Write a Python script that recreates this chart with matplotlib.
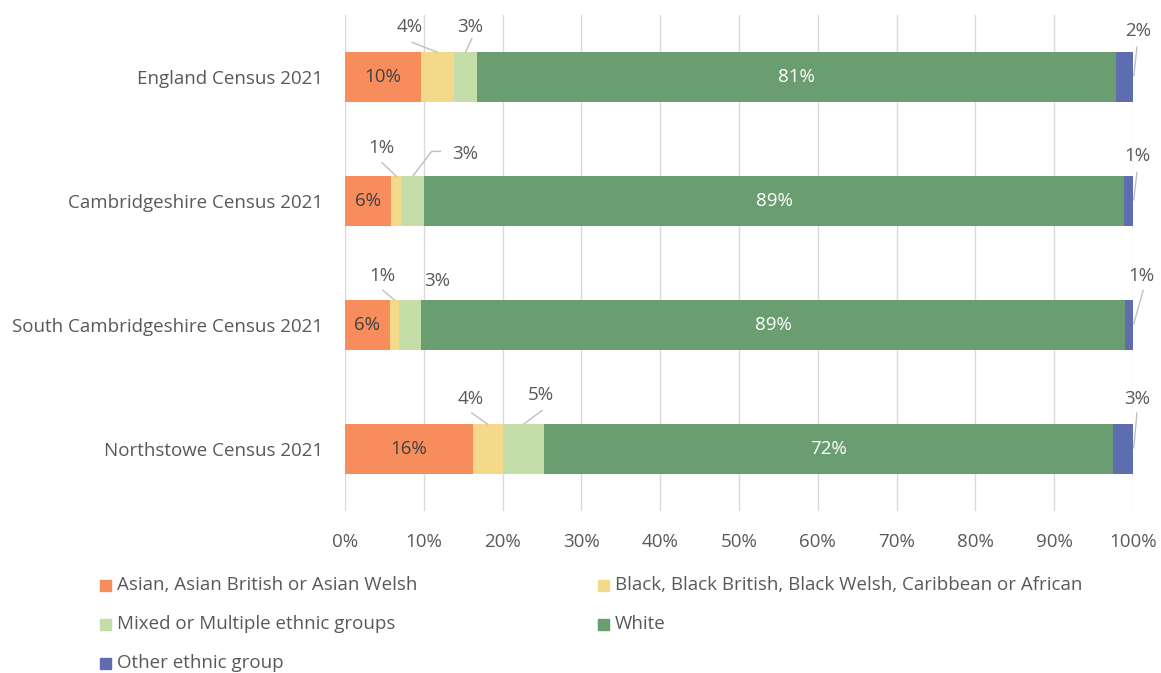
import matplotlib
matplotlib.use("Agg")
import matplotlib.pyplot as plt
from matplotlib.patches import Rectangle
import numpy as np

plt.rcParams['font.family'] = ['Open Sans', 'DejaVu Sans']

# data (percent of population)
areas = ['England Census 2021', 'Cambridgeshire Census 2021',
         'South Cambridgeshire Census 2021', 'Northstowe Census 2021']
series = ['Asian, Asian British or Asian Welsh',
          'Black, Black British, Black Welsh, Caribbean or African',
          'Mixed or Multiple ethnic groups', 'White', 'Other ethnic group']
asian = [9.6, 5.8, 5.7, 16.2]
black = [4.2, 1.4, 1.2, 3.8]
mixed = [3.0, 2.8, 2.8, 5.3]
white = [81.0, 88.9, 89.3, 72.1]
other = [2.2, 1.1, 1.0, 2.6]
values = [asian, black, mixed, white, other]

colors = ['#F78D5C', '#F5D98B', '#C5DEA9', '#6A9D6F', '#5E6DAF']
grey = '#595959'
fs = 13.5

# callouts for the small segments: (row, series) -> text pos, leader start, optional elbow
callouts = {
    (0, 1): ((8.25, -0.40), (8.5, -0.28), None),
    (0, 2): ((15.9, -0.40), (16.1, -0.31), None),
    (0, 4): ((100.6, -0.37), (100.5, -0.24), None),
    (1, 1): ((4.6, 0.57), (4.7, 0.69), None),
    (1, 2): ((15.2, 0.62), (12.1, 0.60), (11.0, 0.60)),
    (1, 4): ((100.5, 0.64), (100.5, 0.77), None),
    (2, 1): ((4.7, 1.605), (4.8, 1.72), None),
    (2, 2): ((11.7, 1.645), None, None),
    (2, 4): ((101.1, 1.605), (101.3, 1.72), None),
    (3, 1): ((15.9, 2.597), (16.1, 2.71), None),
    (3, 2): ((24.9, 2.565), (25.0, 2.69), None),
    (3, 4): ((100.5, 2.60), (100.5, 2.71), None),
}

fig = plt.figure(figsize=(11.61, 6.73), dpi=100)
ax = fig.add_axes([345 / 1161, 1 - 511 / 673, 788 / 1161, 496 / 673])

y = np.arange(len(areas))
height = 0.4
left = np.zeros(len(areas))
for k, vals in enumerate(values):
    vals = np.array(vals)
    ax.barh(y, vals, height, left=left, color=colors[k], zorder=2)
    for i, v in enumerate(vals):
        txt = '{:.0f}%'.format(v)
        cx = left[i] + v / 2
        if (i, k) in callouts:
            pos, start, elbow = callouts[(i, k)]
            ax.text(pos[0], pos[1], txt, ha='center', va='center',
                    fontsize=fs, color=grey, clip_on=False)
            if start is not None:
                if k == 4:
                    end = (100.1, i - 0.01)
                else:
                    end = (cx, i - height / 2)
                pts = [start] + ([elbow] if elbow else []) + [end]
                ax.plot([p[0] for p in pts], [p[1] for p in pts],
                        color='#BFBFBF', lw=1, clip_on=False, zorder=3)
        else:
            col = 'white' if k == 3 else '#404040'
            ax.text(cx, i, txt, ha='center', va='center', fontsize=fs, color=col)
    left += vals

ax.set_xlim(0, 100)
ax.set_ylim(len(areas) - 0.5, -0.5)
ax.set_xticks(np.arange(0, 101, 10))
ax.set_xticklabels(['{}%'.format(t) for t in range(0, 101, 10)])
ax.set_yticks(y)
ax.set_yticklabels(areas)
ax.tick_params(axis='both', length=0, labelsize=fs, colors=grey)
ax.tick_params(axis='x', pad=16)
ax.tick_params(axis='y', pad=16)
ax.grid(axis='x', color='#D9D9D9', lw=1, zorder=0)
for s in ax.spines.values():
    s.set_visible(False)

# legend, laid out like the Excel one (row major, two columns)
col_x = [100, 598]
for k, name in enumerate(series):
    px = col_x[k % 2]
    py = 585 + 39 * (k // 2)
    fig.add_artist(Rectangle((px / 1161, 1 - (py + 5.5) / 673), 11 / 1161, 11 / 673,
                             transform=fig.transFigure, color=colors[k]))
    fig.text((px + 17) / 1161, 1 - py / 673, name, ha='left', va='center',
             fontsize=fs, color=grey)

fig.savefig('out.png', dpi=100)
